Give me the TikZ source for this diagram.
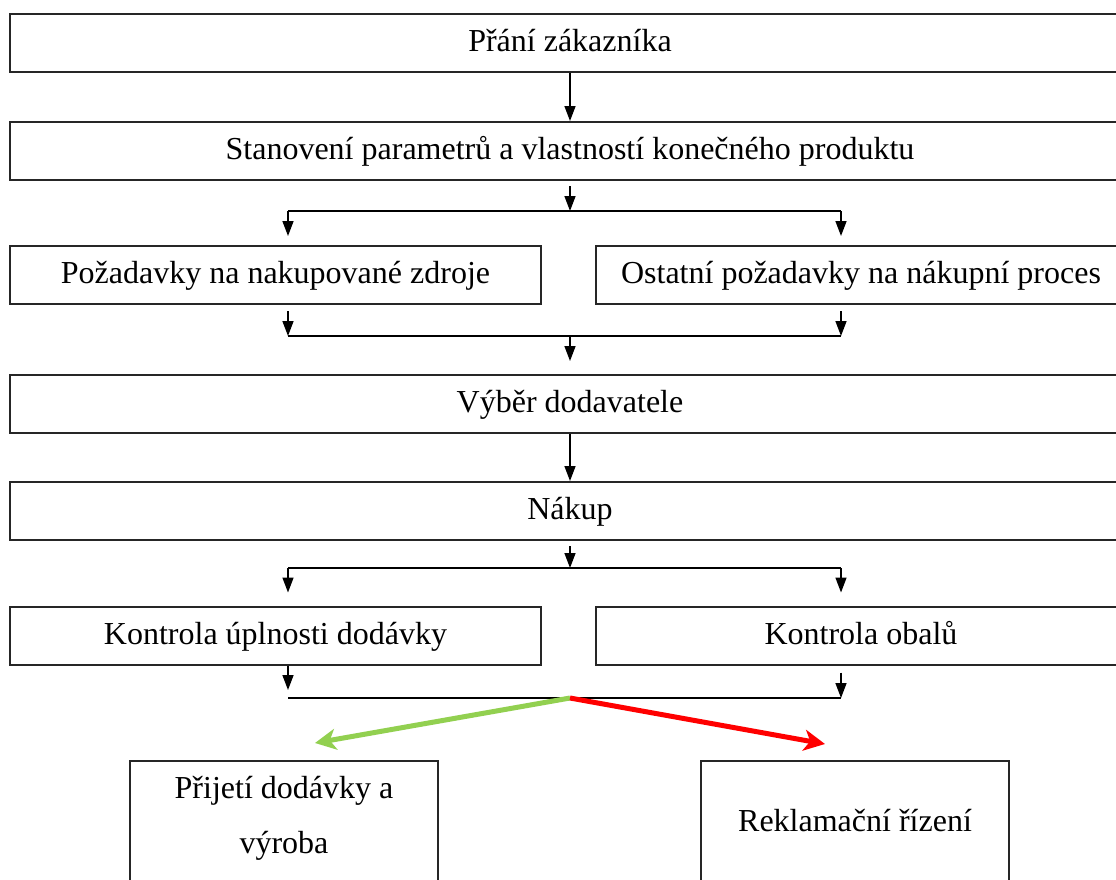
\documentclass[tikz,border=0pt]{standalone}
\usepackage{fontspec}
\setmainfont{Liberation Serif}
\usetikzlibrary{arrows.meta}
\definecolor{okgreen}{RGB}{146,208,80}
\definecolor{badred}{RGB}{255,0,0}
\tikzset{
  lbl/.style={inner sep=0pt, font=\fontsize{32}{55}\selectfont},
  box/.style={lbl, draw=black!85, line width=2pt, minimum height=58pt,
    text height=22pt, text depth=5pt},
  arr/.style={line width=1.5pt, -{Triangle[length=15pt,width=11pt]}},
  okarr/.style={line width=5pt, okgreen, -{Stealth[length=21pt,width=21pt,inset=6pt]}},
  badarr/.style={okarr, badred}
}
\begin{document}
\begin{tikzpicture}[x=1pt,y=-1pt]
  \useasboundingbox (0,0) rectangle (1116,879);
  \clip (0,0) rectangle (1116,879);
  \node[box, minimum width=1120pt] (wish) at (570,42.5) {Přání zákazníka};
  \node[box, minimum width=1120pt] (param) at (570,151) {Stanovení parametrů a vlastností konečného produktu};
  \node[box, minimum width=531pt] (reqL) at (275.5,275) {Požadavky na nakupované zdroje};
  \node[box, minimum width=530pt] (reqR) at (861,275) {Ostatní požadavky na nákupní proces};
  \node[box, minimum width=1120pt] (supp) at (570,404) {Výběr dodavatele};
  \node[box, minimum width=1120pt] (buy) at (570,511) {Nákup};
  \node[box, minimum width=531pt] (chkL) at (275.5,635.5) {Kontrola úplnosti dodávky};
  \node[box, minimum width=530pt] (chkR) at (861,635.5) {Kontrola obalů};
  \node[box, minimum width=308pt, minimum height=160pt, anchor=north] (accept) at (284,760) {};
  \node[box, minimum width=308pt, minimum height=160pt, anchor=north] (claim) at (855,760) {};
  \node[lbl, align=center] at ([yshift=-58.5pt]accept.north) {Přijetí dodávky a\\výroba};
  \node[lbl] at ([yshift=-61pt]claim.north) {Reklamační řízení};
  \foreach \y/\n in {211/fork1, 336/join1, 568/fork2, 698/join2} {
    \coordinate (\n) at (570,\y);
    \coordinate (\n L) at (288,\y);
    \coordinate (\n R) at (841,\y);
  }
  \coordinate (okEnd) at (315,743);
  \coordinate (badEnd) at (825,744);
  \draw[arr] (wish) -- (param);
  \draw[arr, shorten <=5pt] (param.south) -- (fork1);
  \draw[line width=1.8pt] (fork1L) -- (fork1R);
  \foreach \s in {L,R} {
    \draw[arr, shorten >=9pt] (fork1\s) -- (fork1\s |- req\s.north);
    \draw[arr, shorten <=6pt] (join1\s |- req\s.south) -- (join1\s);
  }
  \draw[line width=1.8pt] (join1L) -- (join1R);
  \draw[arr, shorten >=13pt] (join1) -- (supp.north);
  \draw[arr] (supp) -- (buy);
  \draw[arr, shorten <=5pt] (buy.south) -- (fork2);
  \draw[line width=1.8pt] (fork2L) -- (fork2R);
  \foreach \s in {L,R}
    \draw[arr, shorten >=13pt] (fork2\s) -- (fork2\s |- chk\s.north);
  \draw[arr, shorten >=8pt] (join2L |- chkL.south) -- (join2L);
  \draw[arr, shorten <=7pt] (join2R |- chkR.south) -- (join2R);
  \draw[line width=1.8pt] (join2L) -- (join2R);
  \draw[okarr] (join2) -- (okEnd);
  \draw[badarr] (join2) -- (badEnd);
\end{tikzpicture}
\end{document}
